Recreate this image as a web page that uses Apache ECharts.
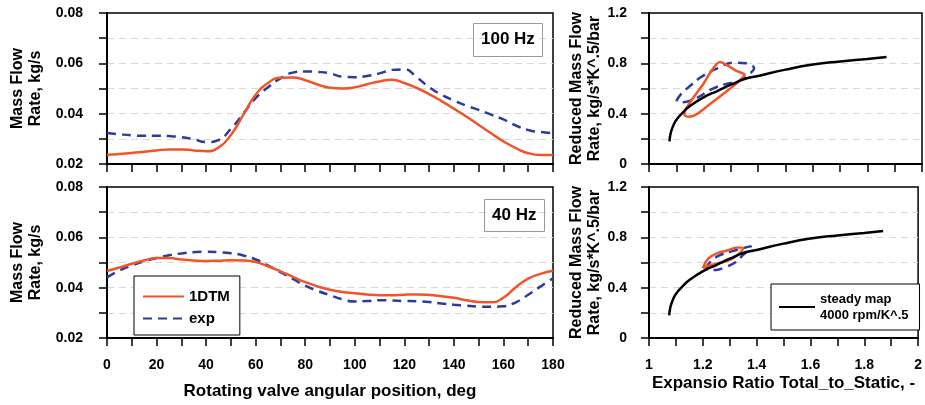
<!DOCTYPE html>
<html>
<head>
<meta charset="utf-8">
<script src="https://cdn.jsdelivr.net/npm/echarts@6/dist/echarts.min.js"></script>
<style>html,body{margin:0;padding:0;background:#fff}#c{width:925px;height:405px}</style>
</head>
<body>
<div id="c"></div>
<script>
// ---- data ----
const deg = [0,5,10,15,20,25,30,35,40,45,50,55,60,65,70,75,80,85,90,95,100,105,110,115,120,125,130,135,140,145,150,155,160,165,170,175,180];
const sim100 = [0.0237,0.0240,0.0244,0.0249,0.0254,0.0258,0.0258,0.0254,0.0251,0.0265,0.0315,0.0395,0.0475,0.0522,0.0543,0.0544,0.0533,0.0516,0.0503,0.0500,0.0505,0.0517,0.0528,0.0535,0.0522,0.0502,0.0478,0.0450,0.0420,0.0389,0.0355,0.0322,0.0290,0.0263,0.0243,0.0236,0.0236];
const exp100 = [0.0323,0.0318,0.0314,0.0312,0.0312,0.0311,0.0307,0.0298,0.0287,0.0295,0.0340,0.0400,0.0462,0.0505,0.0540,0.0563,0.0568,0.0566,0.0560,0.0547,0.0545,0.0550,0.0560,0.0574,0.0576,0.0545,0.0505,0.0475,0.0452,0.0432,0.0415,0.0396,0.0377,0.0353,0.0335,0.0327,0.0323];
const sim40 = [0.0466,0.0480,0.0495,0.0508,0.0518,0.0518,0.0512,0.0508,0.0506,0.0507,0.0509,0.0508,0.0502,0.0485,0.0465,0.0443,0.0422,0.0405,0.0392,0.0383,0.0378,0.0373,0.0370,0.0370,0.0372,0.0373,0.0371,0.0366,0.0360,0.0350,0.0343,0.0342,0.0360,0.0402,0.0436,0.0455,0.0467];
const exp40 = [0.0441,0.0468,0.0488,0.0505,0.0518,0.0529,0.0536,0.0541,0.0543,0.0541,0.0537,0.0528,0.0512,0.0488,0.0462,0.0435,0.0408,0.0387,0.0370,0.0354,0.0345,0.0347,0.0350,0.0349,0.0347,0.0346,0.0343,0.0337,0.0332,0.0328,0.0325,0.0324,0.0326,0.0342,0.0372,0.0405,0.0437];

// steady map: [expansion ratio, reduced mass flow]
const steadyMap = [[1.075,0.18],[1.08,0.25],[1.09,0.31],[1.10,0.35],[1.12,0.40],[1.15,0.46],[1.2,0.53],[1.25,0.58],[1.3,0.63],[1.35,0.675],[1.4,0.70],[1.5,0.75],[1.6,0.79],[1.7,0.815],[1.8,0.835],[1.87,0.85]];
const loopSim100 = [[1.13,0.42],[1.16,0.52],[1.20,0.64],[1.235,0.76],[1.26,0.81],[1.29,0.78],[1.32,0.74],[1.35,0.71],[1.34,0.68],[1.32,0.64],[1.28,0.57],[1.22,0.47],[1.17,0.39],[1.145,0.375],[1.13,0.39],[1.13,0.42]];
const loopExp100 = [[1.10,0.50],[1.115,0.55],[1.15,0.62],[1.19,0.69],[1.25,0.76],[1.31,0.805],[1.355,0.80],[1.385,0.76],[1.37,0.72],[1.33,0.66],[1.28,0.635],[1.23,0.595],[1.17,0.52],[1.12,0.49],[1.10,0.50]];
const loopSim40 = [[1.20,0.555],[1.22,0.63],[1.25,0.67],[1.29,0.695],[1.33,0.72],[1.35,0.715],[1.34,0.68],[1.31,0.63],[1.27,0.60],[1.23,0.58],[1.20,0.555]];
const loopExp40 = [[1.21,0.55],[1.23,0.61],[1.26,0.655],[1.31,0.69],[1.35,0.715],[1.38,0.73],[1.37,0.70],[1.35,0.66],[1.32,0.60],[1.28,0.56],[1.25,0.54],[1.22,0.54],[1.21,0.55]];

const nameSim = '1DTM', nameExp = 'exp', nameMap = 'steady map\n4000 rpm/K^.5';
const xNameLeft = 'Rotating valve angular position, deg';
const xNameRight = 'Expansio Ratio Total_to_Static, -';
const yNameLeft = 'Mass Flow\nRate, kg/s';
const yNameRight = 'Reduced Mass Flow\nRate, kg/s*K^.5/bar';

// ---- styles ----
const FONT = '"Liberation Sans", Arial, sans-serif';
const RED = '#f0552a', BLUE = '#2c3b9c', BLACK = '#000';
const axisLine = {show:true, lineStyle:{color:'#000', width:2}};
const axisTick = {show:true, inside:false, length:8, lineStyle:{color:'#000', width:1.5}};
const split = {show:true, showMinLine:false, showMaxLine:false, lineStyle:{color:'#d8d8d8', type:[7,5], width:1}};
const lbl = (m, f, show) => ({show: show, margin:m, color:'#000', fontFamily:FONT, fontWeight:'bold', fontSize:14, formatter:f});
const fmtLY = v => { const k = Math.round(v*100); return k%2===0 ? (k/100).toFixed(2) : ''; };
const fmtLX = v => (Math.round(v)%20===0 ? String(Math.round(v)) : '');
const fmtRX = v => { const k = Math.round(v*10); return k%2===0 ? String(k/10) : ''; };
const fmtRY = v => { const k = Math.round(v*10); return k%4===0 ? String(k/10) : ''; };
const nameStyle = (fs) => ({color:'#000', fontFamily:FONT, fontWeight:'bold', fontSize:fs, lineHeight:18});

const grids = [
  {left:107, top:13, width:446, height:151},
  {left:107, top:187, width:446, height:151},
  {left:649, top:13, width:273, height:151},
  {left:649, top:187, width:273, height:151}
].map(g => Object.assign({show:true, borderColor:'#000', borderWidth:1.5, backgroundColor:'transparent'}, g));

const xAxes = [
  {gridIndex:0, type:'value', min:0, max:180, interval:10, axisLine, axisTick, splitLine:{show:false}, axisLabel:lbl(20, fmtLX, false)},
  {gridIndex:1, type:'value', min:0, max:180, interval:10, axisLine, axisTick, splitLine:{show:false}, axisLabel:lbl(20, fmtLX, true),
    name:xNameLeft, nameLocation:'middle', nameGap:44, nameTextStyle:nameStyle(17)},
  {gridIndex:2, type:'value', min:1, max:2, interval:0.1, axisLine, axisTick, splitLine:{show:false}, axisLabel:lbl(20, fmtRX, false)},
  {gridIndex:3, type:'value', min:1, max:2, interval:0.1, axisLine, axisTick, splitLine:{show:false}, axisLabel:lbl(20, fmtRX, true),
    name:xNameRight, nameLocation:'middle', nameGap:36, nameTextStyle:nameStyle(17)}
];
const yAxes = [0,1].map(i => ({gridIndex:i, type:'value', min:0.02, max:0.08, interval:0.01, axisLine, axisTick, splitLine:split,
    axisLabel:lbl(24, fmtLY, true), name:yNameLeft, nameLocation:'middle', nameGap:62, nameTextStyle:nameStyle(16)}))
  .concat([2,3].map(i => ({gridIndex:i, type:'value', min:0, max:1.2, interval:0.2, axisLine, axisTick, splitLine:split,
    axisLabel:lbl(22, fmtRY, true), name:yNameRight, nameLocation:'middle', nameGap:45, nameTextStyle:nameStyle(16)})));

const zip = (xs, ys) => xs.map((x, i) => [x, ys[i]]);
const simLine = (data, gi, smooth) => ({name:nameSim, type:'line', xAxisIndex:gi, yAxisIndex:gi, data, symbol:'none', smooth,
  lineStyle:{color:RED, width:2.5}, itemStyle:{color:RED}, z:4});
const expLine = (data, gi, smooth) => ({name:nameExp, type:'line', xAxisIndex:gi, yAxisIndex:gi, data, symbol:'none', smooth,
  lineStyle:{color:BLUE, width:2.5, type:[9,6]}, itemStyle:{color:BLUE}, z:3});
const mapLine = (gi) => ({name:nameMap, type:'line', xAxisIndex:gi, yAxisIndex:gi, data:steadyMap, symbol:'none', smooth:true,
  lineStyle:{color:BLACK, width:2.5}, itemStyle:{color:BLACK}, z:5});

const series = [
  expLine(zip(deg, exp100), 0, true), simLine(zip(deg, sim100), 0, true),
  expLine(zip(deg, exp40), 1, true), simLine(zip(deg, sim40), 1, true),
  expLine(loopExp100, 2, 0.4), simLine(loopSim100, 2, 0.3), mapLine(2),
  expLine(loopExp40, 3, 0.4), simLine(loopSim40, 3, 0.4), mapLine(3)
];

const legTxt = (fs, lh) => ({color:'#000', fontFamily:FONT, fontWeight:'bold', fontSize:fs, lineHeight:lh});
const option = {
  animation:false,
  backgroundColor:'#fff',
  grid:grids, xAxis:xAxes, yAxis:yAxes, series,
  title:[
    {text:'100 Hz', left:473, top:23, padding:[8,8,9,8], borderColor:'#9a9a9a', borderWidth:1,
      textStyle:{color:'#000', fontFamily:FONT, fontWeight:'bold', fontSize:17}},
    {text:'40 Hz', left:484, top:199, padding:[8,8,8,8], borderColor:'#9a9a9a', borderWidth:1,
      textStyle:{color:'#000', fontFamily:FONT, fontWeight:'bold', fontSize:17}}
  ],
  legend:[
    {data:[nameSim, nameExp], orient:'vertical', left:134, top:276, padding:[13,10,9,8], itemWidth:41, itemHeight:14, itemGap:7,
      itemStyle:{opacity:0}, borderColor:'#000', borderWidth:1, backgroundColor:'#fff', textStyle:legTxt(15, 15), selectedMode:false},
    {data:[nameMap], orient:'vertical', left:771, top:284, padding:[7,11,7,7], itemWidth:36, itemHeight:14,
      itemStyle:{opacity:0}, borderColor:'#000', borderWidth:1, backgroundColor:'#fff', textStyle:legTxt(13, 16), selectedMode:false}
  ]
};
const chart = echarts.init(document.getElementById('c'), null, {renderer:'canvas'});
chart.setOption(option);
</script>
</body>
</html>
